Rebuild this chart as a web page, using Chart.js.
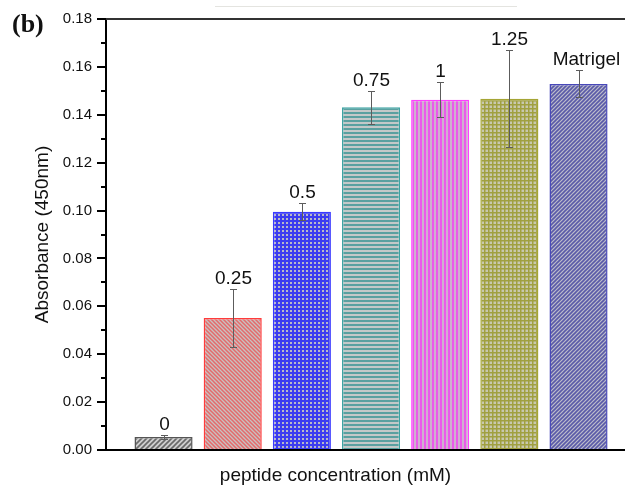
<!DOCTYPE html>
<html><head><meta charset="utf-8">
<script src="https://cdn.jsdelivr.net/npm/chart.js@4.4.1/dist/chart.umd.min.js"></script>
<style>
html,body{margin:0;padding:0;background:#fff;overflow:hidden}
#wrap{position:relative;width:625px;height:486px}
#topline{position:absolute;left:215px;top:6px;width:302px;height:1px;background:#e4e4e0}
</style></head><body>
<div id="wrap"><div id="topline"></div><canvas id="c" width="625" height="486"></canvas></div>
<script>
const categories = ['0', '0.25', '0.5', '0.75', '1', '1.25', 'Matrigel'];
const absorbance = [0.0054, 0.0551, 0.0995, 0.1431, 0.1463, 0.1467, 0.1529];
const errors = [0.0009, 0.0121, 0.0035, 0.0069, 0.0074, 0.0202, 0.0056];
const yTicks = [0.00, 0.02, 0.04, 0.06, 0.08, 0.10, 0.12, 0.14, 0.16, 0.18];
const yMinorTicks = [0.01, 0.03, 0.05, 0.07, 0.09, 0.11, 0.13, 0.15, 0.17];
const yTitle = 'Absorbance (450nm)';
const xTitle = 'peptide concentration (mM)';
const panelLabel = '(b)';

const canvas = document.getElementById('c');
const mainCtx = canvas.getContext('2d');

function makePattern(size, draw) {
  const c = document.createElement('canvas');
  c.width = size; c.height = size;
  const g = c.getContext('2d');
  draw(g, size);
  return mainCtx.createPattern(c, 'repeat');
}
function diag(bg, fg, p, lw, dir) {
  return makePattern(p, (g, s) => {
    g.fillStyle = bg; g.fillRect(0, 0, s, s);
    g.strokeStyle = fg; g.lineWidth = lw;
    g.beginPath();
    if (dir > 0) {
      for (let k = -1; k <= 1; k++) { g.moveTo(k * s - 1, s + 1); g.lineTo(k * s + s + 1, -1); }
    } else {
      for (let k = -1; k <= 1; k++) { g.moveTo(k * s - 1, -1); g.lineTo(k * s + s + 1, s + 1); }
    }
    g.stroke();
  });
}
function grid(bg, fg, p, lw) {
  return makePattern(p, (g, s) => {
    g.fillStyle = bg; g.fillRect(0, 0, s, s);
    g.fillStyle = fg; g.fillRect(0, 0, s, lw); g.fillRect(0, 0, lw, s);
  });
}
function hlines(bg, fg, p, lw) {
  return makePattern(p, (g, s) => { g.fillStyle = bg; g.fillRect(0, 0, s, s); g.fillStyle = fg; g.fillRect(0, 0, s, lw); });
}
function vlines(bg, fg, p, lw) {
  return makePattern(p, (g, s) => { g.fillStyle = bg; g.fillRect(0, 0, s, s); g.fillStyle = fg; g.fillRect(0, 0, lw, s); });
}

const fills = [
  diag('#cfcfcf', '#6a6a6a', 5, 1.6, 1),
  diag('#c9c0c0', '#e46a6a', 4, 1.5, -1),
  grid('#b8b8c8', '#3c3cf0', 4, 2),
  hlines('#c4c8c8', '#5aa0a0', 4, 2),
  vlines('#cfb0cf', '#ea5aea', 4, 2),
  grid('#c8c8ae', '#a0a040', 4, 1.5),
  diag('#bcbccc', '#5a5aa8', 4, 1.6, 1)
];
const borders = ['#555555', '#ff3b3b', '#3a3aff', '#3fa3a3', '#ff40ff', '#a5a535', '#4848b8'];
const labelDx = [0, 0, 0, 0, 0, 0, 7];

const deco = {
  id: 'deco',
  afterDraw(chart) {
    const { ctx, chartArea: a, scales: { x, y } } = chart;
    ctx.save();
    ctx.strokeStyle = '#333'; ctx.lineWidth = 2;
    ctx.beginPath(); ctx.moveTo(a.left, a.top); ctx.lineTo(a.right, a.top); ctx.stroke();
    ctx.strokeStyle = '#000'; ctx.lineWidth = 2;
    yMinorTicks.forEach(v => {
      const py = Math.round(y.getPixelForValue(v));
      ctx.beginPath(); ctx.moveTo(a.left - 5, py); ctx.lineTo(a.left, py); ctx.stroke();
    });
    absorbance.forEach((v, i) => {
      const px = Math.round(x.getPixelForValue(i)) + 0.5;
      const yt = Math.round(y.getPixelForValue(v + errors[i])) + 0.5;
      const yb = Math.round(y.getPixelForValue(v - errors[i])) + 0.5;
      ctx.strokeStyle = '#5c5c5c'; ctx.lineWidth = 1;
      ctx.beginPath();
      ctx.moveTo(px, yt); ctx.lineTo(px, yb);
      ctx.moveTo(px - 3.5, yt); ctx.lineTo(px + 3.5, yt);
      ctx.moveTo(px - 3.5, yb); ctx.lineTo(px + 3.5, yb);
      ctx.stroke();
      ctx.fillStyle = '#111';
      ctx.font = '19px "Liberation Sans", Arial, sans-serif';
      ctx.textAlign = 'center'; ctx.textBaseline = 'alphabetic';
      ctx.fillText(categories[i], px + labelDx[i], yt - 6);
    });
    ctx.fillStyle = '#111';
    ctx.font = '19px "Liberation Sans", Arial, sans-serif';
    ctx.textAlign = 'center'; ctx.textBaseline = 'alphabetic';
    ctx.fillText(xTitle, 335.5, 481);
    ctx.font = 'bold 26px "Liberation Serif", "Times New Roman", serif';
    ctx.textAlign = 'left';
    ctx.fillText(panelLabel, 12, 32);
    ctx.restore();
  }
};

new Chart(canvas, {
  type: 'bar',
  data: {
    datasets: [{
      data: absorbance.map((v, i) => ({ x: i, y: v })),
      backgroundColor: fills,
      borderColor: borders,
      borderWidth: 1.5,
      barPercentage: 0.84,
      categoryPercentage: 1
    }]
  },
  options: {
    responsive: false,
    devicePixelRatio: 1,
    animation: false,
    layout: { padding: { top: 19, right: 0, bottom: 0, left: 0 } },
    plugins: { legend: { display: false }, tooltip: { enabled: false } },
    scales: {
      x: {
        type: 'linear', min: -0.832, max: 6.672, offset: false,
        ticks: { display: false },
        grid: { drawOnChartArea: false, drawTicks: false, offset: false },
        border: { display: true, color: '#000', width: 2 },
        afterFit: s => { s.height = 36; }
      },
      y: {
        min: 0, max: 0.18,
        afterBuildTicks: s => { s.ticks = yTicks.map(v => ({ value: v })); },
        ticks: {
          callback: v => Number(v).toFixed(2),
          color: '#111', padding: 5,
          font: { family: '"Liberation Sans", Arial, sans-serif', size: 15 }
        },
        grid: { drawOnChartArea: false, drawTicks: true, tickLength: 9, color: '#000', lineWidth: 2, tickWidth: 2 },
        border: { display: true, color: '#000', width: 2 },
        title: {
          display: true, text: yTitle, color: '#111',
          font: { family: '"Liberation Sans", Arial, sans-serif', size: 19 },
          padding: { top: 31, bottom: 0 }
        },
        afterFit: s => { s.width = 106; }
      }
    }
  },
  plugins: [deco]
});
</script>
</body></html>
